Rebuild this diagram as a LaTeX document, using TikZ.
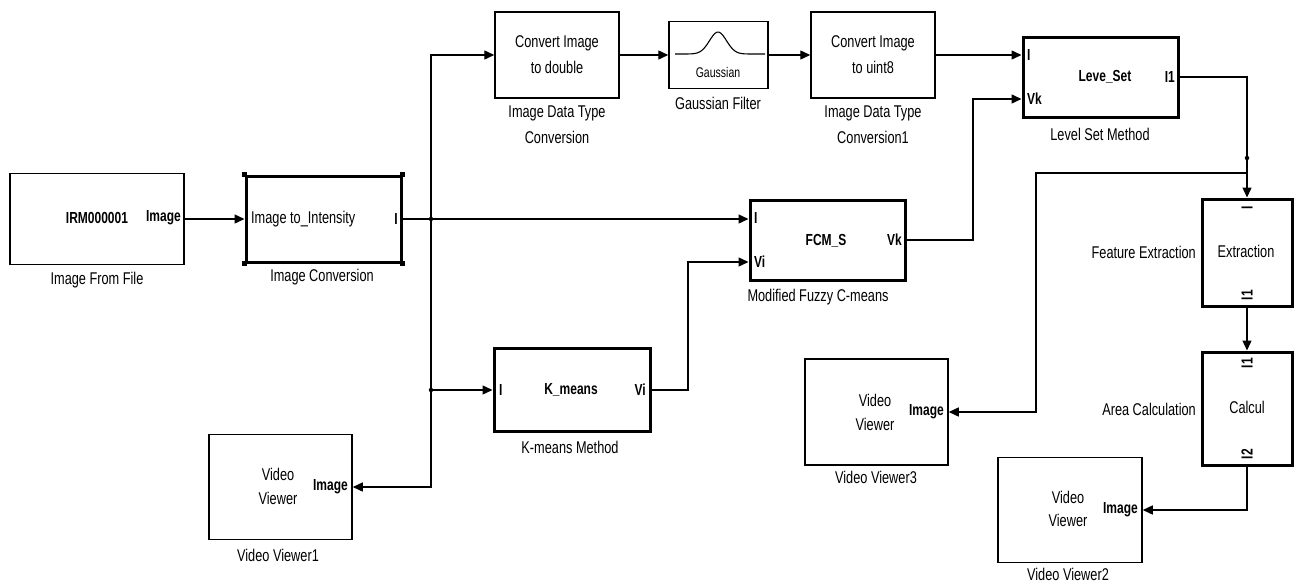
\documentclass[tikz,border=0pt]{standalone}
\usepackage{fontspec}
\setmainfont{Liberation Sans}[FakeStretch=0.75]
\usetikzlibrary{arrows.meta}
\begin{document}
\begin{tikzpicture}[x=1pt,y=-1pt,
  blk/.style={draw, line width=1.5pt, inner sep=0pt},
  tblk/.style={draw, line width=3pt, inner sep=0pt},
  wire/.style={line width=1.4pt},
  arr/.style={line width=1.4pt, -{Triangle[length=10pt,width=9pt]}},
  txt/.style={inner sep=0pt, font=\fontsize{17}{19}\selectfont},
  ptxt/.style={inner sep=0pt, font=\fontsize{16}{18}\selectfont\bfseries},
  lbl/.style={inner sep=0pt, font=\fontsize{17}{19}\selectfont, align=center},
  jdot/.style={circle, fill, inner sep=0pt, minimum size=4.5pt}]
\useasboundingbox (0,0) rectangle (1294,584);

% blocks
\node[blk, minimum width=174pt, minimum height=91pt] (ifile) at (97,219) {};
\node[tblk, minimum width=155pt, minimum height=86pt] (iconv) at (323.5,219) {};
\node[blk, minimum width=124pt, minimum height=86pt] (dbl) at (557,55) {};
\node[blk, minimum width=99pt, minimum height=67pt] (gauss) at (718.5,55) {};
\node[blk, minimum width=124pt, minimum height=86pt] (u8) at (873,55) {};
\node[tblk, minimum width=155pt, minimum height=80pt] (lset) at (1100.5,77) {};
\node[tblk, minimum width=155pt, minimum height=80pt] (fcm) at (827.5,240) {};
\node[tblk, minimum width=156pt, minimum height=83pt] (kmeans) at (572,390) {};
\node[blk, minimum width=143pt, minimum height=105pt] (vv1) at (280.5,487) {};
\node[blk, minimum width=143pt, minimum height=106pt] (vv3) at (876.5,412) {};
\node[blk, minimum width=144pt, minimum height=105pt] (vv2) at (1070,510) {};
\node[tblk, minimum width=90pt, minimum height=107pt] (extr) at (1247,252.5) {};
\node[tblk, minimum width=90pt, minimum height=113pt] (calc) at (1247,408.5) {};

% selection handles on Image Conversion
\foreach \c in {north west,north east,south west,south east}
  \fill (iconv.\c) ++(-2.5,-2.5) rectangle ++(5,5);

% block texts
\node[ptxt] (t-irm) at (97,218) {IRM000001};
\node[ptxt, anchor=east] (t-img0) at (181,218) {Image};
\node[txt, anchor=west] (t-i2i) at (251,219) {Image to\_Intensity};
\node[ptxt, anchor=east] (t-iout) at (398,219) {I};
\node[txt] (t-dbl1) at (557,43) {Convert Image};
\node[txt] (t-dbl2) at (557,67) {to double};
\node[txt, font=\fontsize{14}{16}\selectfont] (t-gau) at (718,72) {Gaussian};
\draw[line width=1.1pt] plot[smooth, domain=675:765, samples=46] (\x,{54-22*exp(-((\x-718)/12)^2)});
\node[txt] (t-u81) at (873,43) {Convert Image};
\node[txt] (t-u82) at (873,67) {to uint8};
\node[ptxt] (t-ls) at (1105,77) {Leve\_Set};
\node[ptxt, anchor=west] (t-lsi) at (1027,55) {I};
\node[ptxt, anchor=west] (t-lsvk) at (1027,99) {Vk};
\node[ptxt, anchor=east] (t-lsi1) at (1175,77) {I1};
\node[ptxt] (t-fcm) at (826,241) {FCM\_S};
\node[ptxt, anchor=west] (t-fcmi) at (754,218) {I};
\node[ptxt, anchor=west] (t-fcmvi) at (754,262) {Vi};
\node[ptxt, anchor=east] (t-fcmvk) at (902,240) {Vk};
\node[ptxt] (t-km) at (571,390) {K\_means};
\node[ptxt, anchor=west] (t-kmi) at (499,390) {I};
\node[ptxt, anchor=east] (t-kmvi) at (646,390) {Vi};
\node[txt] (t-vv1a) at (278,474) {Video};
\node[txt] (t-vv1b) at (278,498) {Viewer};
\node[ptxt, anchor=east] (t-vv1i) at (348,487) {Image};
\node[txt] (t-vv3a) at (875,400) {Video};
\node[txt] (t-vv3b) at (875,424) {Viewer};
\node[ptxt, anchor=east] (t-vv3i) at (944,412) {Image};
\node[txt] (t-vv2a) at (1068,497) {Video};
\node[txt] (t-vv2b) at (1068,520) {Viewer};
\node[ptxt, anchor=east] (t-vv2i) at (1138,510) {Image};
\node[txt] (t-ex) at (1246,251) {Extraction};
\node[ptxt, rotate=90] (t-exi) at (1247,208) {I};
\node[ptxt, rotate=90] (t-exo) at (1247,295) {I1};
\node[txt] (t-ca) at (1247,407) {Calcul};
\node[ptxt, rotate=90] (t-cai) at (1247,363) {I1};
\node[ptxt, rotate=90] (t-cao) at (1247,454) {I2};

% captions
\node[lbl] (c-ifile) at (97,280) {Image From File};
\node[lbl] (c-iconv) at (322,277) {Image Conversion};
\node[lbl] (c-dbl1) at (557,113) {Image Data Type};
\node[lbl] (c-dbl2) at (557,137) {Conversion};
\node[lbl] (c-gau) at (718,103) {Gaussian Filter};
\node[lbl] (c-u81) at (873,113) {Image Data Type};
\node[lbl] (c-u82) at (873,137) {Conversion1};
\node[lbl] (c-ls) at (1100,134) {Level Set Method};
\node[lbl] (c-fcm) at (818,297) {Modified Fuzzy C-means};
\node[lbl] (c-km) at (570,447) {K-means Method};
\node[lbl] (c-vv1) at (278,555) {Video Viewer1};
\node[lbl] (c-vv3) at (876,477) {Video Viewer3};
\node[lbl] (c-vv2) at (1068,574) {Video Viewer2};
\node[lbl, anchor=east] (c-ex) at (1196,252) {Feature Extraction};
\node[lbl, anchor=east] (c-ca) at (1196,409) {Area Calculation};

% junctions
\coordinate (j1) at (431,219);
\coordinate (j2) at (431,390);
\coordinate (j3) at (1247,158);
\coordinate (j4) at (1247,173);
\node[jdot] (d1) at (j1) {};
\node[jdot] (d2) at (j2) {};
\node[jdot] (d3) at (j3) {};

% connectors
\draw[arr] (ifile.east) -- (iconv.west);
\draw[wire] (iconv.east) -- (j1);
\draw[wire] (j1) -- (j2);
\draw[arr] (j1) -- (fcm.west |- j1);
\draw[arr] (j1) |- (dbl.west);
\draw[arr] (j2) -- (kmeans.west);
\draw[arr] (j2) |- (vv1.east);
\draw[arr] (dbl.east) -- (gauss.west);
\draw[arr] (gauss.east) -- (u8.west);
\draw[arr] (u8.east) -- (lset.west |- u8.east);
\draw[arr] (kmeans.east) -- (688,390) |- ([yshift=-22pt]fcm.west);
\draw[arr] (fcm.east) -- (973,240) |- ([yshift=-22pt]lset.west);
\draw[arr] (lset.east) -| (extr.north);
\draw[arr] (j4) -- (1036,173) |- (vv3.east);
\draw[arr] (extr.south) -- (calc.north);
\draw[arr] (calc.south) |- (vv2.east);
\end{tikzpicture}
\end{document}
